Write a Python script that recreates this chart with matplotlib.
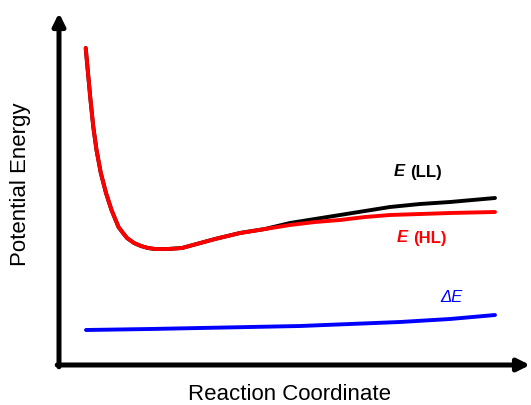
import matplotlib
matplotlib.use("Agg")
import matplotlib.pyplot as plt

plt.rcParams['font.family'] = ['Liberation Sans', 'DejaVu Sans']

# valores (x: coordenada de reaccion, y: energia, unidades arbitrarias)
x_hl = [26.7, 29, 31.5, 34.3, 37.5, 41.8, 47, 52.5, 59.5, 64, 68, 75, 82, 89, 96, 109, 123, 134,
        156, 181, 206, 231, 256, 281, 306, 331, 361, 391, 436]
e_hl = [317, 292, 265, 238, 215, 192, 172, 155, 138, 132, 127, 122, 119, 117, 116, 116, 117, 120,
        126, 132, 136, 140, 143, 145, 148, 150, 151, 152, 153]

x_ll = [26.7, 29, 31.5, 34.3, 37.5, 41.8, 47, 52.5, 59.5, 64, 68, 75, 82, 89, 96, 109, 123, 134,
        156, 181, 206, 231, 256, 281, 306, 331, 361, 391, 436]
e_ll = [317, 292, 265, 238, 215, 192, 172, 155, 138, 132, 127, 122, 119, 117, 116, 116, 117, 120,
        126, 132, 136, 142, 146, 150, 154, 158, 161, 163, 167]

x_de = [27, 91, 141, 191, 241, 291, 341, 391, 436]
e_de = [35, 36, 37, 38, 39, 41, 43, 46, 50]

fig = plt.figure(figsize=(5.31, 4.05), dpi=100)
ax = fig.add_axes([59 / 531, 40 / 405, 472 / 531, 365 / 405])
ax.set_xlim(0, 472)
ax.set_ylim(0, 365)
ax.axis('off')

ax.plot(x_ll, e_ll, color='black', lw=2.8, solid_capstyle='round', solid_joinstyle='round')
ax.plot(x_hl, e_hl, color='#ff0000', lw=2.8, solid_capstyle='round', solid_joinstyle='round')
ax.plot(x_de, e_de, color='#0000ff', lw=2.8, solid_capstyle='round', solid_joinstyle='round')

# ejes con flechas
flecha = dict(arrowstyle='-|>', color='black', lw=3.6, mutation_scale=18, shrinkA=0, shrinkB=0)
ax.annotate('', xy=(0, 352), xytext=(0, -1.8), arrowprops=flecha, annotation_clip=False)
ax.annotate('', xy=(471, 0), xytext=(-1.8, 0), arrowprops=flecha, annotation_clip=False)

# etiquetas de las curvas
ax.text(335, 193, 'E', style='italic', weight='bold', fontsize=12, va='center')
ax.text(351, 193, '(LL)', weight='bold', fontsize=12, va='center')
ax.text(338, 127, 'E', style='italic', weight='bold', fontsize=12, va='center', color='#ff0000')
ax.text(354, 127, '(HL)', weight='bold', fontsize=12, va='center', color='#ff0000')
ax.text(381, 67, '\u0394E', style='italic', fontsize=12, va='center', color='#0000ff')

fig.text(21 / 531, 1 - 184 / 405, 'Potential Energy', rotation=90, fontsize=16,
         ha='center', va='center')
fig.text(290 / 531, 1 - 395 / 405, 'Reaction Coordinate', fontsize=16,
         ha='center', va='center')

fig.savefig('out.png', dpi=100)
